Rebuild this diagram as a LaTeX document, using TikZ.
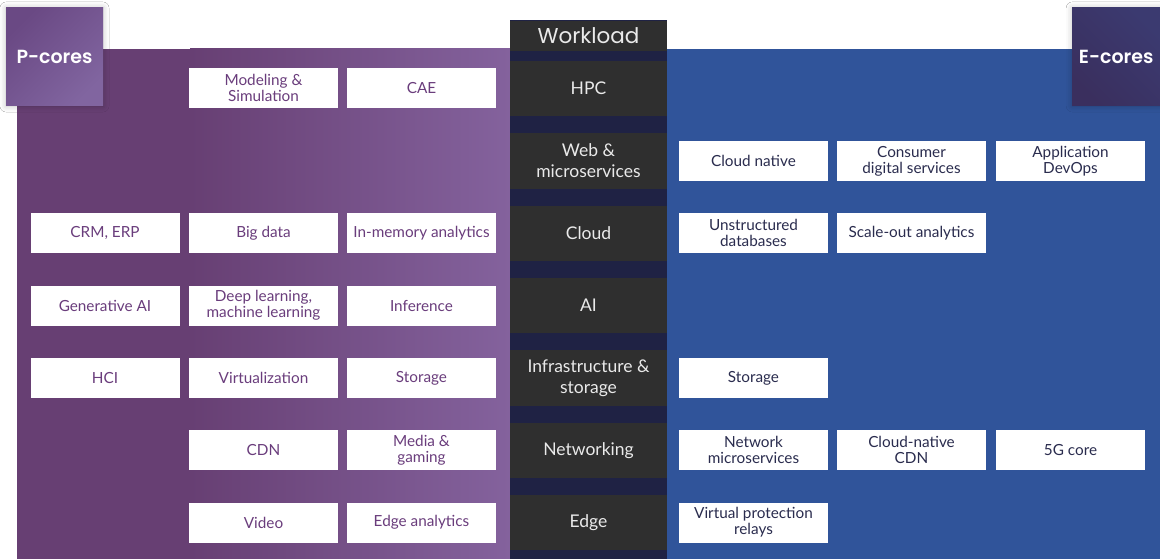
\documentclass[tikz,border=0pt]{standalone}
\usepackage{fontspec}
\setmainfont{Lato}
\newfontfamily\headfont{Poppins}
\newfontfamily\tilefont{Poppins SemiBold}
\usetikzlibrary{shadows.blur}
\definecolor{pbase}{HTML}{673F73}
\definecolor{plight}{HTML}{84629D}
\definecolor{eblue}{HTML}{30549A}
\definecolor{colnavy}{HTML}{1F2244}
\definecolor{colgray}{HTML}{2F2F2F}
\definecolor{ptext}{HTML}{6A3D7C}
\definecolor{etext}{HTML}{2A2C4E}
\definecolor{ctext}{HTML}{EAEAEA}
\definecolor{pcoreA}{HTML}{6A4984}
\definecolor{pcoreB}{HTML}{8165A0}
\definecolor{ecoreA}{HTML}{3B3A70}
\definecolor{ecoreB}{HTML}{3A2F5E}
\tikzset{
  item/.style={fill=white, minimum width=149pt, minimum height=40pt, inner sep=0pt,
    align=center, font=\fontsize{15.3}{16}\selectfont},
  pitem/.style={item, text=ptext},
  eitem/.style={item, text=etext},
  workload/.style={fill=colgray, minimum width=157pt, minimum height=55.5pt, inner sep=0pt,
    align=center, text=ctext, font=\fontsize{17.5}{21}\selectfont},
  corebox/.style={minimum width=97pt, minimum height=98pt, inner sep=0pt, text=white,
    font=\tilefont\fontsize{19}{22}\selectfont,
    blur shadow={shadow xshift=0pt, shadow yshift=0pt, shadow blur radius=6pt, shadow opacity=25}}
}
\begin{document}
\begin{tikzpicture}[x=1pt,y=-1pt]
\useasboundingbox (0,0) rectangle (1160,559);
\fill[white] (0,0) rectangle (1160,559);
% P-core and E-core panels
\fill[pbase] (17,49) rectangle (510,559);
\shade[left color=pbase, right color=plight] (190,49) rectangle (510,559);
\fill[eblue] (667,49) rectangle (1160,559);
% central workload column
\fill[colnavy] (510,20) rectangle (667,559);
\node[fill=colgray, minimum width=157pt, minimum height=30pt, inner sep=0pt, text=ctext,
  font=\headfont\fontsize{21.5}{24}\selectfont] (wl) at (588.5,36) {Workload};
\node[workload] (hpc)  at (588.5,88.5)  {HPC};
\node[workload] (web)  at (588.5,161)   {Web \&\\microservices};
\node[workload] (cld)  at (588.5,233.5) {Cloud};
\node[workload] (ai)   at (588.5,305.5) {AI};
\node[workload] (inf)  at (588.5,378)   {Infrastructure \&\\storage};
\node[workload] (net)  at (588.5,450.5) {Networking};
\node[workload] (edg)  at (588.5,522.5) {Edge};
% headline tiles
\node[corebox, left color=pcoreA, right color=pcoreB, shading angle=45] (pc) at (54.5,57) {P-cores};
\node[corebox, minimum width=88pt, left color=ecoreA, right color=ecoreB, shading angle=-45, anchor=west] (ec) at (1072,57) {E-cores};
% P-core workloads
\node[pitem] (p1b) at (263.5,88) {Modeling \&\\Simulation};
\node[pitem] (p1c) at (421.5,88) {CAE};
\node[pitem] (p3a) at (105,233) {CRM, ERP};
\node[pitem] (p3b) at (263.5,233) {Big data};
\node[pitem] (p3c) at (421.5,233) {In-memory analytics};
\node[pitem] (p4a) at (105,305.5) {Generative AI};
\node[pitem] (p4b) at (263.5,305.5) {Deep learning,\\machine learning};
\node[pitem] (p4c) at (421.5,305.5) {Inference};
\node[pitem] (p5a) at (105,378) {HCI};
\node[pitem] (p5b) at (263.5,378) {Virtualization};
\node[pitem] (p5c) at (421.5,378) {Storage};
\node[pitem] (p6b) at (263.5,450) {CDN};
\node[pitem] (p6c) at (421.5,450) {Media \&\\gaming};
\node[pitem] (p7b) at (263.5,522.5) {Video};
\node[pitem] (p7c) at (421.5,522.5) {Edge analytics};
% E-core workloads
\node[eitem] (e2a) at (753.5,161) {Cloud native};
\node[eitem] (e2b) at (911.5,161) {Consumer\\digital services};
\node[eitem] (e2c) at (1070.5,161) {Application\\DevOps};
\node[eitem] (e3a) at (753.5,233) {Unstructured\\databases};
\node[eitem] (e3b) at (911.5,233) {Scale-out analytics};
\node[eitem] (e5a) at (753.5,378) {Storage};
\node[eitem] (e6a) at (753.5,450) {Network\\microservices};
\node[eitem] (e6b) at (911.5,450) {Cloud-native\\CDN};
\node[eitem] (e6c) at (1070.5,450) {5G core};
\node[eitem] (e7a) at (753.5,522.5) {Virtual protection\\relays};
\end{tikzpicture}
\end{document}
